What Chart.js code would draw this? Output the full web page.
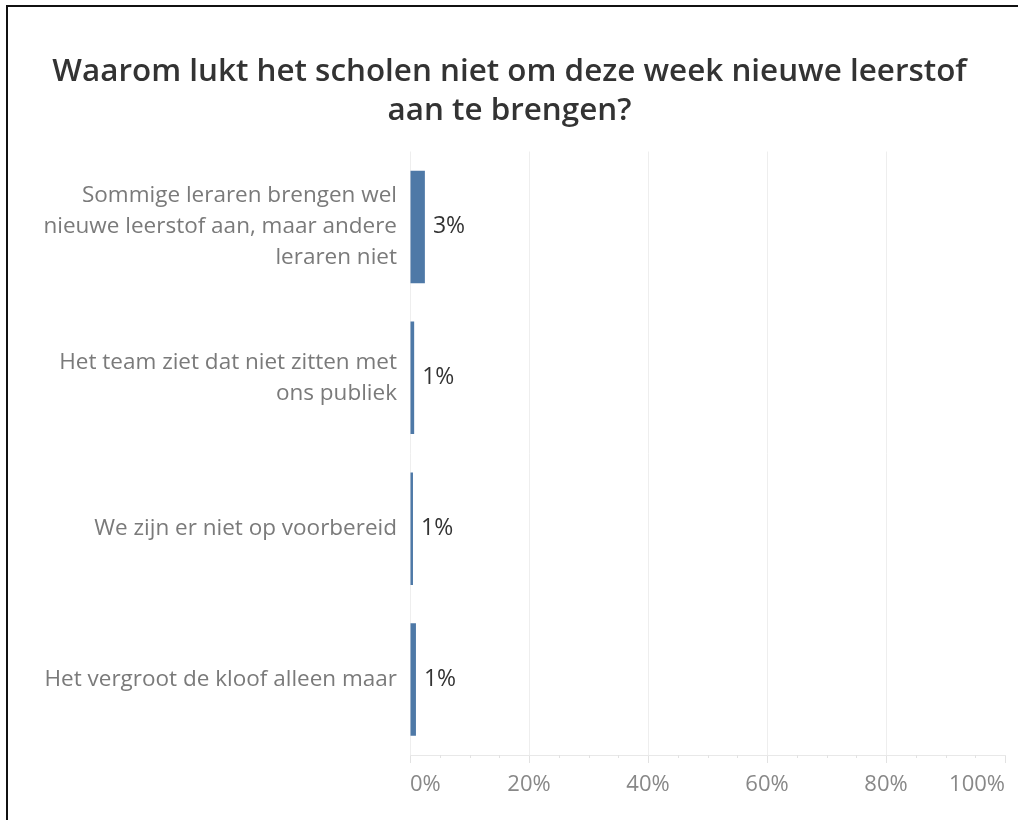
<!DOCTYPE html>
<html lang="nl">
<head>
    <meta charset="UTF-8">
    <title>Waarom lukt het scholen niet om deze week nieuwe leerstof aan te brengen?</title>
    <script src="https://cdn.jsdelivr.net/npm/chart.js"></script>
    <style>
        html, body { margin: 0; padding: 0; background: #fff; }
        .wrap { position: relative; width: 1018px; height: 820px; overflow: hidden; }
        .frame {
            position: absolute; left: 6px; top: 5px; width: 1100px; height: 900px;
            border-top: 2px solid #111; border-left: 2px solid #111;
            pointer-events: none;
        }
    </style>
</head>
<body>
    <div class="wrap">
        <canvas id="chart"></canvas>
        <div class="frame"></div>
    </div>

    <script>
        // data
        const titleLines = ['Waarom lukt het scholen niet om deze week nieuwe leerstof', 'aan te brengen?'];
        const categories = [
            ['Sommige leraren brengen wel', 'nieuwe leerstof aan, maar andere', 'leraren niet'],
            ['Het team ziet dat niet zitten met', 'ons publiek'],
            'We zijn er niet op voorbereid',
            'Het vergroot de kloof alleen maar'
        ];
        const percentages = [2.5, 0.7, 0.5, 1.0];
        const majorTicks = [0, 20, 40, 60, 80, 100];

        const FONT = '"Open Sans", sans-serif';

        // value labels next to each bar
        const valueLabels = {
            id: 'valueLabels',
            afterDatasetsDraw(chart) {
                const ctx = chart.ctx;
                const meta = chart.getDatasetMeta(0);
                ctx.save();
                ctx.font = '23px ' + FONT;
                ctx.fillStyle = '#333';
                ctx.textAlign = 'left';
                ctx.textBaseline = 'middle';
                meta.data.forEach((bar, i) => {
                    ctx.fillText(Math.round(percentages[i]) + '%', bar.x + 8, bar.y);
                });
                ctx.restore();
            }
        };

        // short minor ticks every 5% under the axis
        const minorTicks = {
            id: 'minorTicks',
            afterDraw(chart) {
                const ctx = chart.ctx;
                const xs = chart.scales.x;
                const y0 = chart.chartArea.bottom;
                ctx.save();
                ctx.strokeStyle = '#e2e2e2';
                ctx.lineWidth = 1;
                for (let v = 5; v < 100; v += 5) {
                    if (majorTicks.includes(v)) continue;
                    const x = Math.round(xs.getPixelForValue(v)) + 0.5;
                    ctx.beginPath();
                    ctx.moveTo(x, y0);
                    ctx.lineTo(x, y0 + 3);
                    ctx.stroke();
                }
                ctx.restore();
            }
        };

        new Chart(document.getElementById('chart'), {
            type: 'bar',
            data: {
                labels: categories,
                datasets: [{
                    data: percentages,
                    backgroundColor: '#4e79a7',
                    categoryPercentage: 1,
                    barPercentage: 0.745
                }]
            },
            options: {
                indexAxis: 'y',
                responsive: true,
                maintainAspectRatio: false,
                animation: false,
                layout: { padding: { left: 14, right: 13, top: 0, bottom: 0 } },
                plugins: {
                    legend: { display: false },
                    tooltip: { enabled: false },
                    title: {
                        display: true,
                        text: titleLines,
                        color: '#333',
                        font: { family: FONT, size: 31.4, weight: '600', lineHeight: 1.25 },
                        padding: { top: 52, bottom: 21 }
                    }
                },
                scales: {
                    x: {
                        min: 0,
                        max: 100,
                        afterFit(scale) { scale.height = 65; },
                        ticks: {
                            stepSize: 5,
                            autoSkip: false,
                            maxRotation: 0,
                            align: 'inner',
                            padding: 9,
                            color: '#888',
                            font: { family: FONT, size: 22 },
                            callback: v => majorTicks.includes(v) ? v + '%' : ''
                        },
                        grid: {
                            color: c => (majorTicks.includes(c.tick.value) && c.tick.value !== 100) ? '#eeeeee' : 'rgba(0,0,0,0)',
                            tickColor: c => majorTicks.includes(c.tick.value) ? '#e2e2e2' : 'rgba(0,0,0,0)',
                            tickLength: 8
                        },
                        border: { display: true, color: '#e8e8e8' }
                    },
                    y: {
                        afterFit(scale) { scale.width = 396; },
                        grid: { display: false },
                        border: { display: false },
                        ticks: {
                            padding: 5,
                            color: '#7a7a7a',
                            font: { family: FONT, size: 22.5, lineHeight: 1.38 }
                        }
                    }
                }
            },
            plugins: [valueLabels, minorTicks]
        });
    </script>
</body>
</html>
